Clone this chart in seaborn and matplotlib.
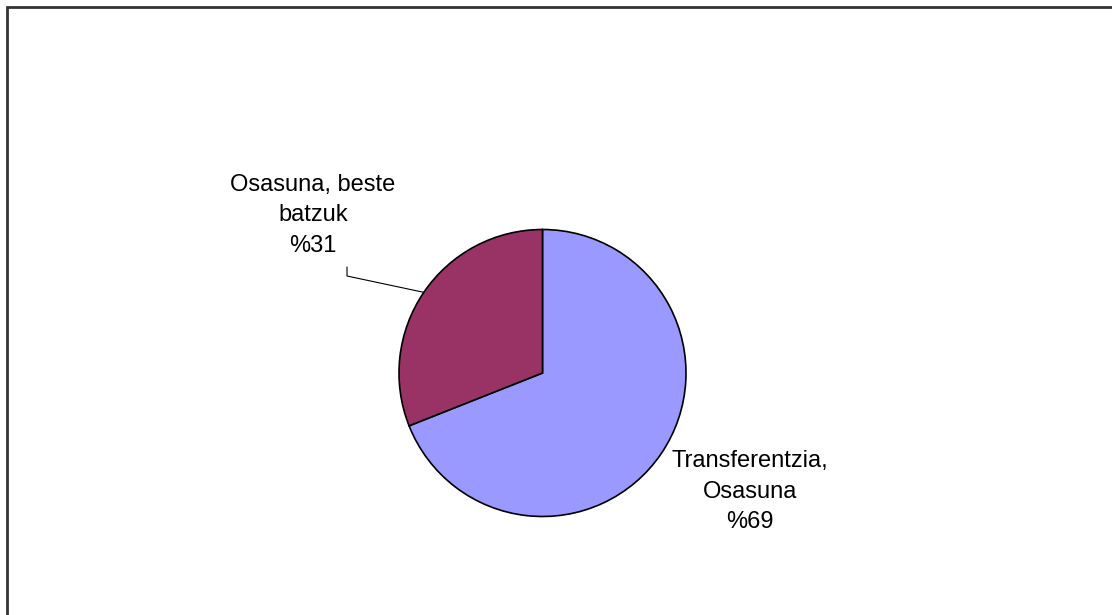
import numpy as np
import matplotlib
matplotlib.use("Agg")
import matplotlib.pyplot as plt
import seaborn as sns

# ---- data ----
categories = ["Transferentzia,\nOsasuna", "Osasuna, beste\nbatzuk"]
values = [69, 31]
pct_labels = ["%69", "%31"]
colors = ["#9999FF", "#993366"]

sns.set_theme(style="white")
plt.rcParams['font.family'] = ['Liberation Sans', 'DejaVu Sans']

W, H = 1112, 615
fig = plt.figure(figsize=(W / 100, H / 100), dpi=100)
ax = fig.add_axes([0, 0, 1, 1])
ax.set_xlim(0, W)
ax.set_ylim(0, H)
ax.set_axis_off()

cx, cy, r = 542.5, H - 373, 143.5
wedges, _ = ax.pie(values, colors=colors, startangle=90, counterclock=False,
                   center=(cx, cy), radius=r,
                   wedgeprops=dict(edgecolor="black", linewidth=1.2))
ax.set_xlim(0, W)
ax.set_ylim(0, H)
ax.set_aspect("equal")

# labels
label_pos = [(750, H - 492), (313, H - 215)]
for cat, pct, (lx, ly) in zip(categories, pct_labels, label_pos):
    ax.text(lx, ly, f"{cat}\n{pct}", ha="center", va="center",
            fontsize=17, color="black", linespacing=1.5)

# leader line for the small slice
w = wedges[1]
mid = np.deg2rad((w.theta1 + w.theta2) / 2)
ex, ey = cx + r * np.cos(mid), cy + r * np.sin(mid)
ax.plot([ex, 347, 347], [ey, H - 276, H - 267], color="black", lw=0.8)

# outer frame (top and left edges visible)
ax.plot([7, 7, W + 5], [-5, H - 7, H - 7], color="#333333", lw=2,
        solid_joinstyle="miter", clip_on=False)

fig.savefig("out.png", dpi=100, facecolor="white")
